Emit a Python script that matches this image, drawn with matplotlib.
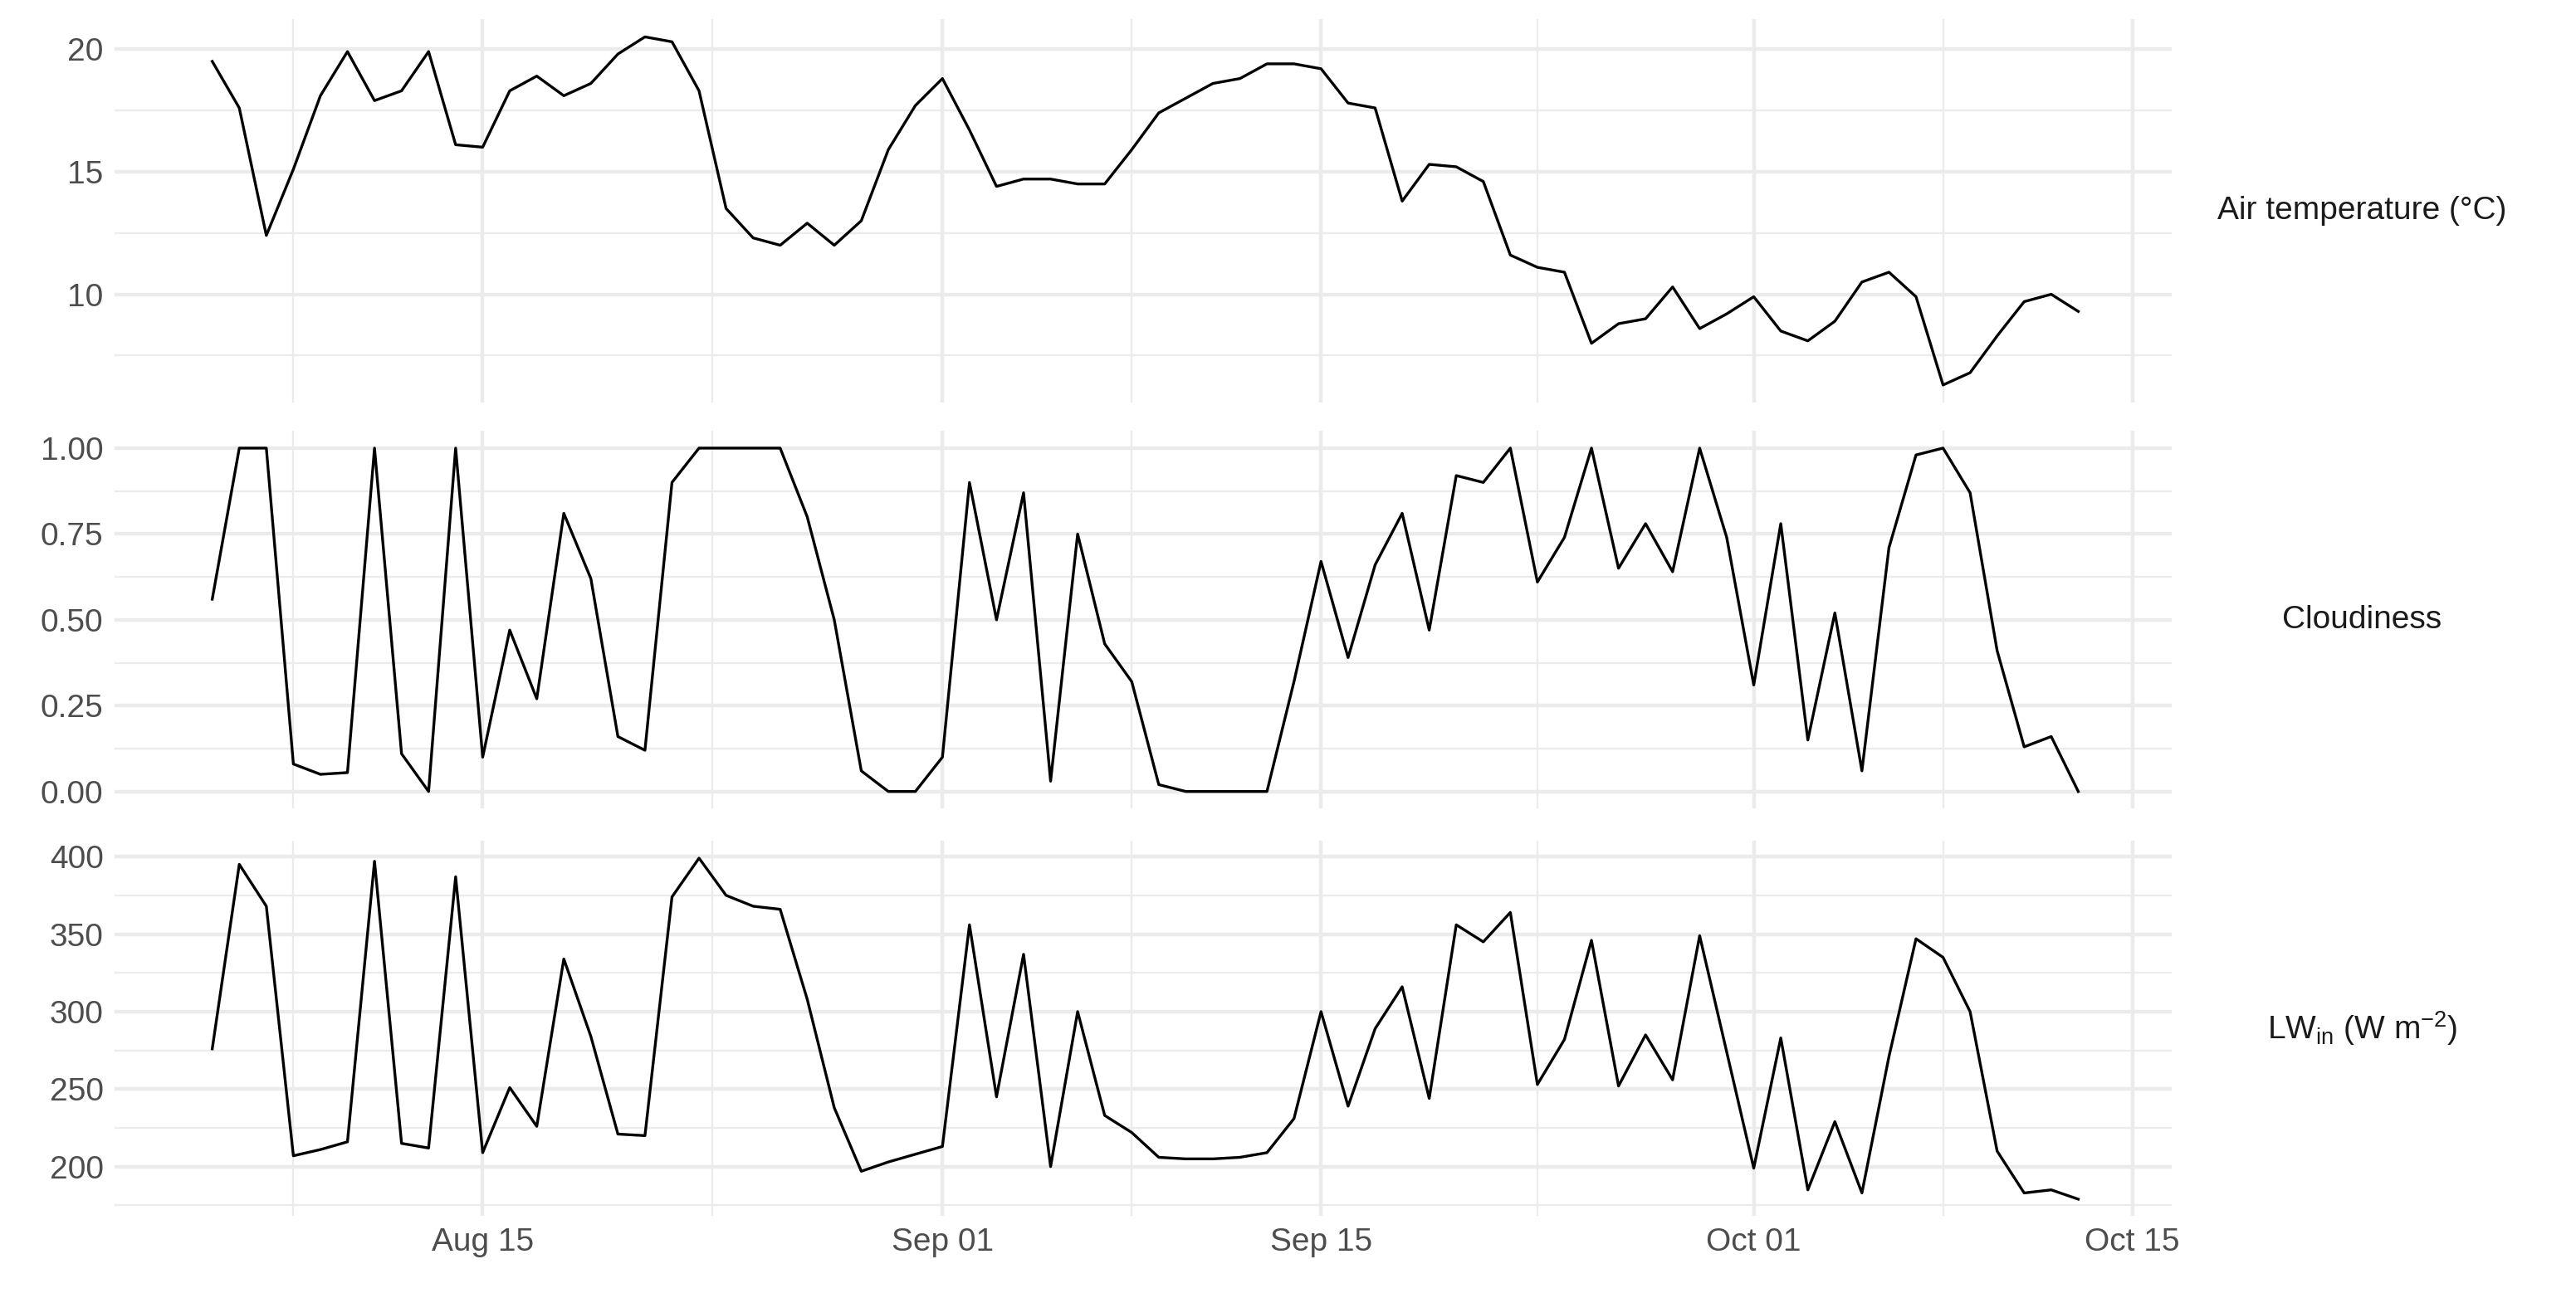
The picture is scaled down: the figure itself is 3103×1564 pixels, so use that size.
import numpy as np
import pandas as pd
import matplotlib
matplotlib.use("Agg")
import matplotlib.pyplot as plt
import matplotlib.dates as mdates
from matplotlib.ticker import MultipleLocator

plt.rcParams['font.family'] = ['Liberation Sans', 'DejaVu Sans']
plt.rcParams['mathtext.fontset'] = 'custom'
plt.rcParams['mathtext.rm'] = 'Liberation Sans'
plt.rcParams['mathtext.it'] = 'Liberation Sans:italic'

dates = pd.date_range('2021-08-05', periods=70, freq='D')

air_temp = [19.5, 17.6, 12.4, 15.1, 18.1, 19.9, 17.9, 18.3, 19.9, 16.1,
            16.0, 18.3, 18.9, 18.1, 18.6, 19.8, 20.5, 20.3, 18.3, 13.5,
            12.3, 12.0, 12.9, 12.0, 13.0, 15.9, 17.7, 18.8, 16.7, 14.4,
            14.7, 14.7, 14.5, 14.5, 15.9, 17.4, 18.0, 18.6, 18.8, 19.4,
            19.4, 19.2, 17.8, 17.6, 13.8, 15.3, 15.2, 14.6, 11.6, 11.1,
            10.9, 8.0, 8.8, 9.0, 10.3, 8.6, 9.2, 9.9, 8.5, 8.1,
            8.9, 10.5, 10.9, 9.9, 6.3, 6.8, 8.3, 9.7, 10.0, 9.3]

cloudiness = [0.56, 1.0, 1.0, 0.08, 0.05, 0.055, 1.0, 0.11, 0.0, 1.0,
              0.10, 0.47, 0.27, 0.81, 0.62, 0.16, 0.12, 0.90, 1.0, 1.0,
              1.0, 1.0, 0.80, 0.50, 0.06, 0.0, 0.0, 0.10, 0.90, 0.50,
              0.87, 0.03, 0.75, 0.43, 0.32, 0.02, 0.0, 0.0, 0.0, 0.0,
              0.32, 0.67, 0.39, 0.66, 0.81, 0.47, 0.92, 0.90, 1.0, 0.61,
              0.74, 1.0, 0.65, 0.78, 0.64, 1.0, 0.74, 0.31, 0.78, 0.15,
              0.52, 0.06, 0.71, 0.98, 1.0, 0.87, 0.41, 0.13, 0.16, 0.0]

lw_in = [276, 395, 368, 207, 211, 216, 397, 215, 212, 387,
         209, 251, 226, 334, 284, 221, 220, 374, 399, 375,
         368, 366, 308, 238, 197, 203, 208, 213, 356, 245,
         337, 200, 300, 233, 222, 206, 205, 205, 206, 209,
         231, 300, 239, 289, 316, 244, 356, 345, 364, 253,
         282, 346, 252, 285, 256, 349, 274, 199, 283, 185,
         229, 183, 271, 347, 335, 300, 210, 183, 185, 179]

labels = ['Air temperature (°C)', 'Cloudiness', r'LW$_{\mathrm{in}}$ (W m$^{-2}$)']
series = [air_temp, cloudiness, lw_in]
major = [5, 0.25, 50]

fig = plt.figure(figsize=(15.515, 7.82), dpi=200)
boxes = [(0.690, 0.295), (0.377, 0.291), (0.063, 0.289)]

xlo = mdates.date2num(pd.Timestamp('2021-08-01')) + 0.4
xhi = mdates.date2num(pd.Timestamp('2021-10-16')) + 0.45
xmaj = mdates.date2num(pd.to_datetime(['2021-08-01', '2021-08-15', '2021-09-01',
                                       '2021-09-15', '2021-10-01', '2021-10-15']))
xmin = (xmaj[:-1] + xmaj[1:]) / 2

for k, (vals, lab, step, (b, h)) in enumerate(zip(series, labels, major, boxes)):
    ax = fig.add_axes([0.0446, b, 0.7984, h])
    ax.plot(dates, vals, color='black', lw=1.2)
    ax.set_xlim(xlo, xhi)
    lo, hi = min(vals), max(vals)
    yp = (hi - lo) * 0.05
    ax.set_ylim(lo - yp, hi + yp)
    ax.yaxis.set_major_locator(MultipleLocator(step))
    ax.yaxis.set_minor_locator(MultipleLocator(step / 2))
    ax.set_xticks(xmaj[1:])
    ax.set_xticks(xmin, minor=True)
    ax.xaxis.set_major_formatter(mdates.DateFormatter('%b %d'))
    if k == 1:
        ax.yaxis.set_major_formatter(plt.FormatStrFormatter('%.2f'))
    ax.grid(which='major', color='#EBEBEB', lw=1.6)
    ax.grid(which='minor', color='#EBEBEB', lw=0.8)
    ax.set_axisbelow(True)
    for s in ax.spines.values():
        s.set_visible(False)
    ax.tick_params(which='both', length=0, labelsize=14, labelcolor='#4D4D4D', pad=5)
    if k < 2:
        ax.tick_params(axis='x', labelbottom=False)
    fig.text(0.917, b + h / 2, lab, ha='center', va='center', fontsize=14, color='#1A1A1A')

fig.savefig('out.png', dpi=200, facecolor='white')
